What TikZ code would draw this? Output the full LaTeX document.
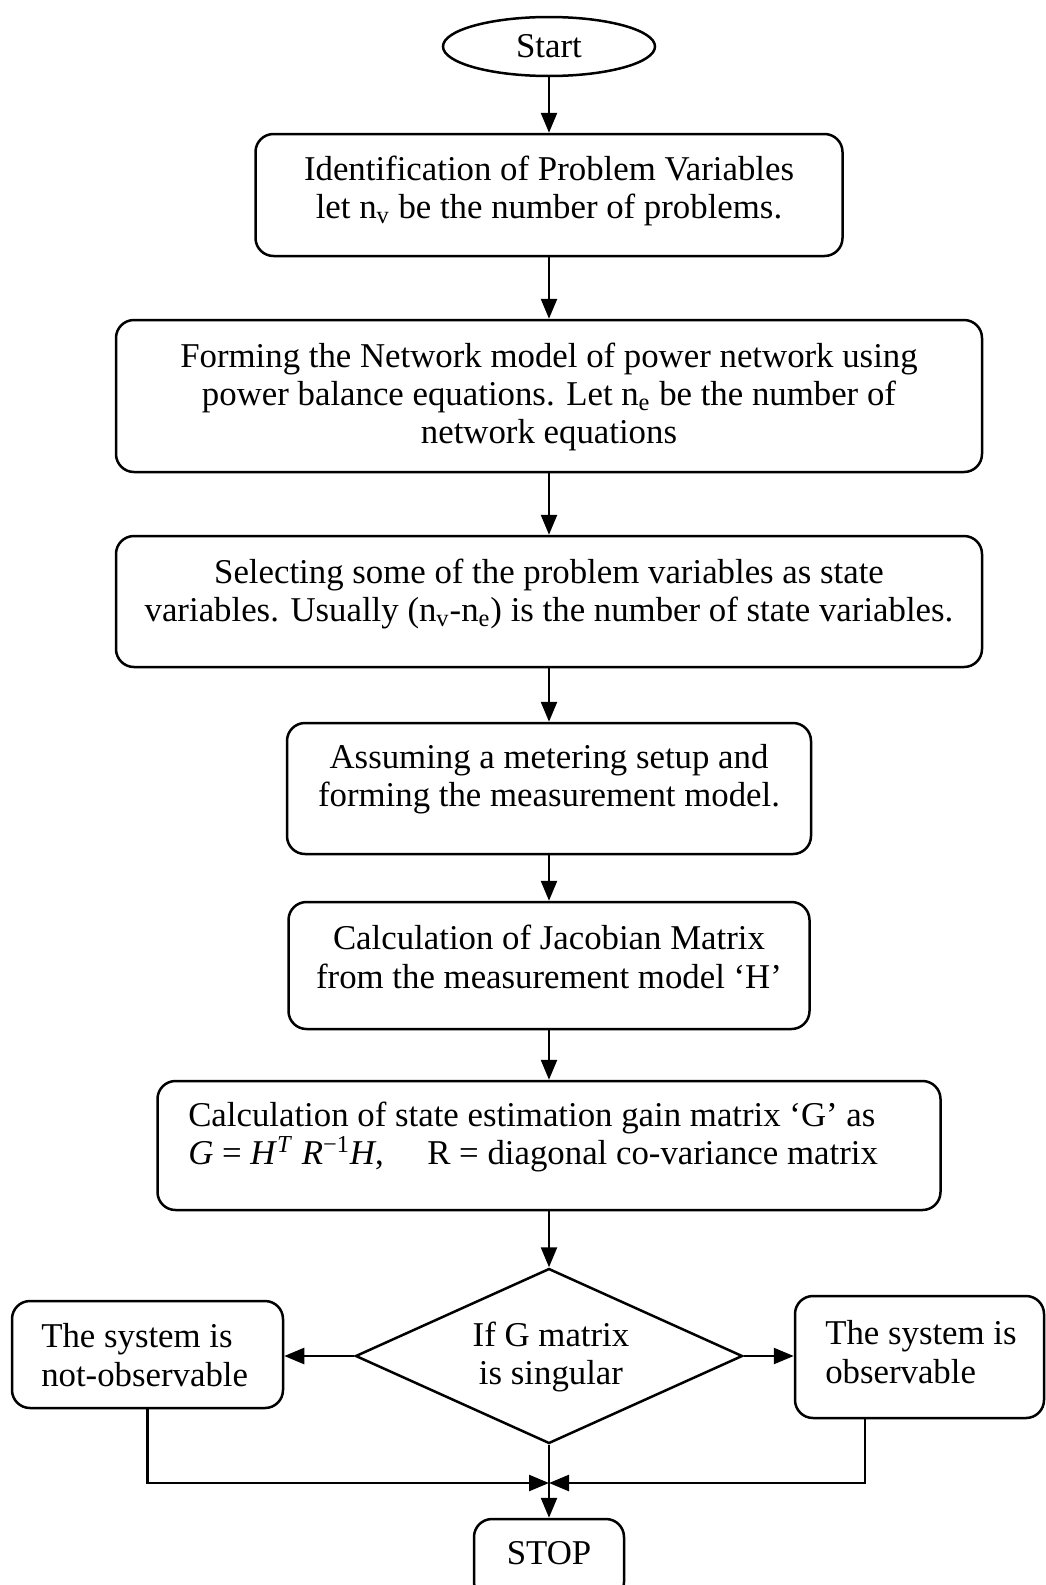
\documentclass[tikz,border=0pt]{standalone}
\usepackage{fontspec}
\setmainfont{Liberation Serif}
\usetikzlibrary{shapes.geometric,arrows.meta,calc}

\begin{document}
\begin{tikzpicture}[x=0.5pt,y=-0.5pt,line width=1.25pt,
  box/.style={draw,rounded corners=9pt,inner sep=0pt},
  txt/.style={align=center,inner sep=0pt,font=\fontsize{17.4}{19.2}\selectfont},
  ltxt/.style={txt,align=left,anchor=west},
  arr/.style={-{Triangle[length=10pt,width=8pt]}},
]
\useasboundingbox (0,0) rectangle (1045,1585);

% terminals
\node[draw,ellipse,minimum width=106pt,minimum height=29.5pt,inner sep=0pt] (start) at (549,46.5) {};
\node[txt] (tstart) at (549,46.5) {Start};

% process boxes of the main column
\node[box,minimum width=293.5pt,minimum height=61pt] (b1) at (549,195) {};
\node[txt] (t1) at (549,191) {Identification of Problem Variables\\let n\textsubscript{v} be the number of problems.};

\node[box,minimum width=433pt,minimum height=76pt] (b2) at (549,396) {};
\node[txt] (t2) at (549,397) {Forming the Network model of power network using\\power balance equations. Let n\textsubscript{e} be the number of\\network equations};

\node[box,minimum width=433pt,minimum height=65.5pt] (b3) at (549,601.5) {};
\node[txt] (t3) at (549,594) {Selecting some of the problem variables as state\\variables. Usually (n\textsubscript{v}-n\textsubscript{e}) is the number of state variables.};

\node[box,minimum width=262pt,minimum height=65.5pt] (b4) at (549,788.5) {};
\node[txt] (t4) at (549,779) {Assuming a metering setup and\\forming the measurement model.};

\node[box,minimum width=260.5pt,minimum height=63.5pt] (b5) at (549,965.5) {};
\node[txt] (t5) at (549,957) {Calculation of Jacobian Matrix\\from the measurement model ‘H’};

\node[box,minimum width=391.5pt,minimum height=64.5pt] (b6) at (549,1145.5) {};
\node[ltxt] (t6) at (187,1137) {Calculation of state estimation gain matrix ‘G’ as\\\textit{G} = \textit{H}\textsuperscript{\textit{T}} \textit{R}\textsuperscript{−1}\textit{H},\quad\ R = diagonal co-variance matrix};

% decision
\node[draw,diamond,minimum width=193.5pt,minimum height=87.5pt,inner sep=0pt] (dec) at (549,1356) {};
\node[txt] (tdec) at (551,1357) {If G matrix\\is singular};

% outcomes
\node[box,minimum width=135.5pt,minimum height=53.5pt] (notobs) at (147.5,1354.5) {};
\node[ltxt] (tnot) at (40,1355) {The system is\\not-observable};

\node[box,minimum width=124.5pt,minimum height=61pt] (obs) at (919.5,1357) {};
\node[ltxt] (tobs) at (824,1352) {The system is\\observable};

\node[box,minimum width=75pt,minimum height=40.5pt] (stop) at (549,1559.5) {};
\node[txt] (tstop) at (549,1553) {STOP};

% connectors
\draw[arr] (start) -- (b1);
\draw[arr] (b1) -- (b2);
\draw[arr] (b2) -- (b3);
\draw[arr] (b3) -- (b4);
\draw[arr] (b4) -- (b5);
\draw[arr] (b5) -- (b6);
\draw[arr] (b6) -- (dec);
\draw[arr] (dec.west) -- (dec.west -| notobs.east);
\draw[arr] (dec.east) -- (dec.east -| obs.west);

\coordinate (join) at (549,1483);
\coordinate (obsfoot) at ($(obs.south west)+(71,0)$);
\draw[arr] (notobs.south) |- (join);
\draw[arr] (obsfoot) |- (join);
\draw[arr] (dec.south) -- (stop.north);
\end{tikzpicture}
\end{document}
